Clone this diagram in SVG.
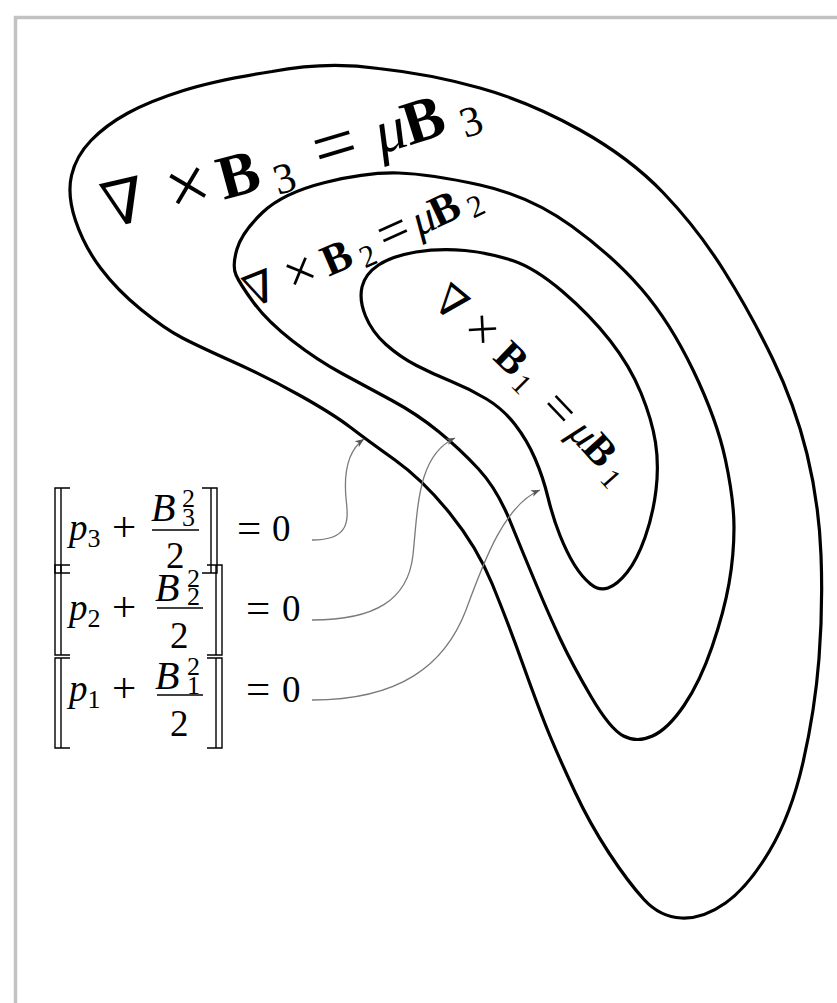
<svg xmlns="http://www.w3.org/2000/svg" width="837" height="1003" viewBox="0 0 837 1003">
<style>
.contour{fill:none;stroke:#000;stroke-width:3.2;stroke-linejoin:round}
.lbl{font-family:"Liberation Serif","DejaVu Serif",serif;fill:#000}
.nab{font-family:"Liberation Serif","DejaVu Serif",serif}
.eq{font-family:"Liberation Serif","DejaVu Serif",serif;font-size:37px;fill:#000}
.it{font-style:italic}
.big{font-size:40px}
.opb{font-size:43px}
.sm{font-size:26px;font-style:normal}
.br{fill:none;stroke:#000;stroke-width:1.4}
.bar{stroke:#000;stroke-width:1.4}
.conn{fill:none;stroke:#7a7a7a;stroke-width:1.3}
</style>
<defs>
<marker id="ah" viewBox="-10 -5 12 10" refX="0" refY="0" markerWidth="12" markerHeight="10" markerUnits="userSpaceOnUse" orient="auto">
<path d="M0,0 L-9,-3.6 L-6.5,0 L-9,3.6 Z" fill="#555"/>
</marker>
<path id="tp3" d="M 100,230 Q 260,195 495,118 L 543,102"/>
<path id="tp2" d="M 242,312 Q 370,262 500,198 L 545,176"/>
<path id="tp1" d="M 428,303 Q 515,372 630,505 L 660,540"/>
</defs>
<rect x="0" y="0" width="837" height="1003" fill="#fff"/>
<rect x="15.5" y="17.5" width="900" height="1100" fill="none" stroke="#c2c2c2" stroke-width="3.5"/>

<g id="contour-3">
<path class="contour" d="M75.5,220.5 Q67,195 71.5,175.5 Q76,156 91,140.5 Q106,125 128,113 Q150,101 183.5,90.5 Q217,80 272,71.5 Q327,61 378.5,68.5 Q430,74 480,88 Q530,102 580,130 Q630,158 663.5,193 Q697,228 723.5,270 Q750,312 772.5,358.5 Q795,405 807,454 Q819,503 821,555 Q823,607 819,658.5 Q815,710 803,762.5 Q791,815 769.5,851 Q748,887 725.5,903 Q703,919 681.5,918 Q660,917 644,899.5 Q628,882 609,853 Q590,824 575,792 Q560,760 550,736 Q540,712 523.5,666 Q507,620 492,583.5 Q477,547 450,513.5 Q423,480 395,460 Q367,440 350,427 Q333,414 300,395.5 Q267,377 233.5,362 Q200,347 182.5,338 Q165,329 141,309.5 Q117,290 100.5,268 Q84,246 75.5,220.5 Z"/>
<text class="lbl" font-size="62"><textPath href="#tp3"><tspan class="nab" dx="8">∇</tspan><tspan dx="23" dy="3" font-size="77">×</tspan><tspan dx="10" dy="-3" font-weight="bold">B</tspan><tspan dx="12" dy="10" font-size="43">3</tspan><tspan dx="25" dy="-7" font-size="77">=</tspan><tspan dx="20" dy="-3" font-style="italic">μ</tspan><tspan dx="-1" font-weight="bold">B</tspan><tspan dx="14" dy="10" font-size="43">3</tspan></textPath></text>
</g>

<g id="contour-2">
<path class="contour" d="M236,275 Q232,266 237,249 Q242,232 262.5,212.5 Q283,193 325,182.5 Q367,172 398.5,173 Q430,174 480,185 Q530,196 571.5,226 Q613,256 641.5,289 Q670,322 693.5,371 Q717,420 725.5,460 Q734,500 734,527.5 Q734,555 729,583.5 Q724,612 712,647 Q700,682 684,705.5 Q668,729 652.5,736 Q637,743 623.5,736 Q610,729 591,696.5 Q572,664 560.5,639.5 Q549,615 536,584 Q523,553 510,521 Q497,489 478.5,469 Q460,449 438.5,431.5 Q417,414 392,400.5 Q367,387 342,373.5 Q317,360 292,340.5 Q267,321 253.5,302.5 Q240,284 236,275 Z"/>
<text class="lbl" font-size="44"><textPath href="#tp2"><tspan class="nab" dx="10">∇</tspan><tspan dx="13" dy="2" font-size="55">×</tspan><tspan dx="9" dy="-2" font-weight="bold">B</tspan><tspan dx="7" dy="7" font-size="31">2</tspan><tspan dx="10" dy="-5" font-size="55">=</tspan><tspan dx="6" dy="-2" font-style="italic">μ</tspan><tspan dx="-2" font-weight="bold">B</tspan><tspan dx="7" dy="7" font-size="31">2</tspan></textPath></text>
</g>

<g id="contour-1">
<path class="contour" d="M365.5,316 Q359,300 362,287 Q365,274 378.5,265 Q392,256 416,252 Q440,248 465,250.5 Q490,253 512.5,260.5 Q535,268 562.5,291.5 Q590,315 610,340.5 Q630,366 641,393 Q652,420 655.5,442.5 Q659,465 656,490 Q653,515 645,537.5 Q637,560 627,572.5 Q617,585 608,588 Q599,591 590.5,584 Q582,577 574.5,565 Q567,553 560,535.5 Q553,518 548,497.5 Q543,477 535,458.5 Q527,440 515,424.5 Q503,409 486.5,399 Q470,389 451.5,381.5 Q433,374 416.5,365.5 Q400,357 386,344.5 Q372,332 365.5,316 Z"/>
<text class="lbl" font-size="42"><textPath href="#tp1"><tspan class="nab" dx="3">∇</tspan><tspan dx="11" dy="2" font-size="52">×</tspan><tspan dx="12" dy="-2" font-weight="bold">B</tspan><tspan dx="4" dy="7" font-size="29">1</tspan><tspan dx="22" dy="-3" font-size="52">=</tspan><tspan dx="9" dy="-4" font-style="italic">μ</tspan><tspan dx="-1" font-weight="bold">B</tspan><tspan dx="7" dy="7" font-size="29">1</tspan></textPath></text>
</g>

<g id="eq-3">
<path class="br" d="M70,488 H55 V573 H70 M61,488 V573"/>
<text class="eq it" x="69" y="540">p<tspan class="sm" dy="7">3</tspan></text>
<text class="eq opb" x="112" y="541">+</text>
<text class="eq it big" x="151" y="521">B</text>
<text class="eq sm" x="182" y="507">2</text>
<text class="eq sm" x="182" y="526">3</text>
<line class="bar" x1="152" y1="530" x2="199" y2="530"/>
<text class="eq" x="166" y="568">2</text>
<path class="br" d="M202,488 H217 V573 H202 M211,488 V573"/>
<text class="eq" x="237" y="541"><tspan class="opb" dy="1">=</tspan><tspan x="272" dy="-1">0</tspan></text>
</g>

<g id="eq-2">
<path class="br" d="M70,565 H55 V655 H70 M61,565 V655"/>
<text class="eq it" x="69" y="620">p<tspan class="sm" dy="7">2</tspan></text>
<text class="eq opb" x="112" y="621">+</text>
<text class="eq it big" x="155" y="601">B</text>
<text class="eq sm" x="187" y="587">2</text>
<text class="eq sm" x="187" y="605">2</text>
<line class="bar" x1="157" y1="608" x2="203" y2="608"/>
<text class="eq" x="170" y="648">2</text>
<path class="br" d="M207,565 H222 V655 H207 M216,565 V655"/>
<text class="eq" x="246" y="621"><tspan class="opb" dy="1">=</tspan><tspan x="282" dy="-1">0</tspan></text>
</g>

<g id="eq-1">
<path class="br" d="M70,658 H55 V748 H70 M61,658 V748"/>
<text class="eq it" x="69" y="701">p<tspan class="sm" dy="7">1</tspan></text>
<text class="eq opb" x="112" y="702">+</text>
<text class="eq it big" x="155" y="689">B</text>
<text class="eq sm" x="187" y="675">2</text>
<text class="eq sm" x="187" y="694">1</text>
<line class="bar" x1="157" y1="695" x2="203" y2="695"/>
<text class="eq" x="170" y="736">2</text>
<path class="br" d="M207,658 H222 V748 H207 M216,658 V748"/>
<text class="eq" x="246" y="702"><tspan class="opb" dy="1">=</tspan><tspan x="282" dy="-1">0</tspan></text>
</g>

<g id="connectors">
<path class="conn" marker-end="url(#ah)" d="M312,540 C352,540 348,518 346,498 C344,476 346,452 364,439"/>
<path class="conn" marker-end="url(#ah)" d="M312,620 C375,620 408,600 413,555 C418,505 418,455 455,438"/>
<path class="conn" marker-end="url(#ah)" d="M312,700 C400,700 445,665 466,610 C485,558 505,505 540,490"/>
</g>
</svg>
